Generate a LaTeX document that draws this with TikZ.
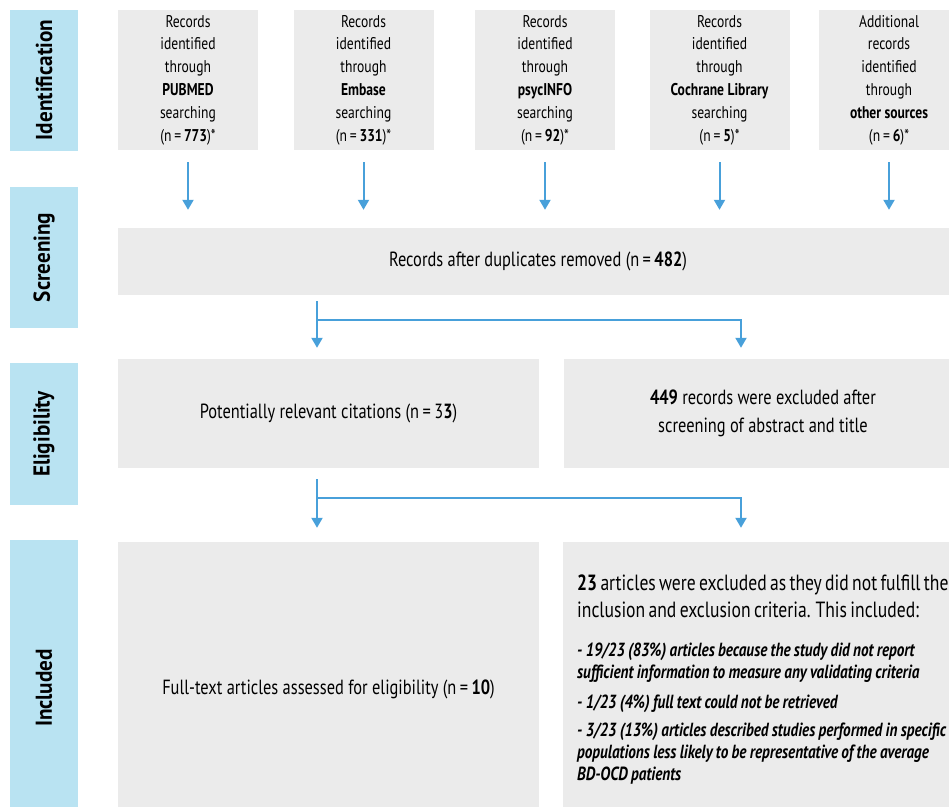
\documentclass[tikz,border=0pt]{standalone}
\usepackage{fontspec}
\setmainfont{PT Sans}[FakeStretch=0.8]
\newfontfamily\stagefont{PT Sans}[FakeStretch=0.92]
\usetikzlibrary{arrows.meta}

\definecolor{stageblue}{RGB}{185,227,242}
\definecolor{boxgray}{RGB}{235,235,235}
\definecolor{flowblue}{RGB}{72,160,218}

\tikzset{
  stage/.style={fill=stageblue, rotate=90, inner sep=0pt, minimum height=68pt,
    font=\stagefont\bfseries\fontsize{23}{26}\selectfont},
  srcbox/.style={fill=boxgray, inner sep=0pt, minimum width=140pt, minimum height=140pt,
    align=center, font=\fontsize{17}{22.8}\selectfont},
  grayarea/.style={fill=boxgray, inner sep=0pt, align=center,
    font=\fontsize{20.5}{28}\selectfont},
  flow/.style={draw=flowblue, line width=2pt, -{Triangle[width=11pt,length=10pt]}}
}

\begin{document}
\begin{tikzpicture}[x=1pt, y=-1pt]

\useasboundingbox (0,0) rectangle (949,806);
\clip (0,0) rectangle (949,806);

% stages down the left side
\node[stage, minimum width=141pt] (identlbl) at (44,80) {Identification};
\node[stage, minimum width=141pt] (screenlbl) at (44,257.5) {Screening};
\node[stage, minimum width=142pt] (eliglbl) at (44,434) {Eligibility};
\node[stage, minimum width=296pt] (incllbl) at (44,688) {Included};

% sources
\node[srcbox] (pubmed) at (188,80) {Records\\identified\\through\\\textbf{PUBMED}\\searching\\(n\,=\,\textbf{773})*};
\node[srcbox] (embase) at (363.5,80) {Records\\identified\\through\\\textbf{Embase}\\searching\\(n\,=\,\textbf{331})*};
\node[srcbox] (psyc) at (545,80) {Records\\identified\\through\\\textbf{psycINFO}\\searching\\(n\,=\,\textbf{92})*};
\node[srcbox] (cochrane) at (719.5,80) {Records\\identified\\through\\\textbf{Cochrane Library}\\searching\\(n\,=\,\textbf{5})*};
\node[srcbox] (other) at (889,80) {Additional\\records\\identified\\through\\\textbf{other sources}\\(n\,=\,\textbf{6})*};

\node[grayarea, minimum width=840pt, minimum height=67pt] (dupl) at (538,261.5)
  {Records after duplicates removed (n\,=\,\textbf{482})};

\node[grayarea, minimum width=421pt, minimum height=109pt] (relevant) at (328.5,413.5)
  {Potentially relevant citations (n\,=\,3\textbf{3})};
\node[grayarea, minimum width=398pt, minimum height=109pt] (excl1) at (763,413.5)
  {\textbf{449} records were excluded after\\screening of abstract and title};

\node[grayarea, minimum width=421pt, minimum height=294pt] (fulltext) at (328.5,689)
  {Full-text articles assessed for eligibility (n\,=\,\textbf{10})};
\node[grayarea, minimum width=399pt, minimum height=294pt] (excl2) at (762.5,689) {};
\node[anchor=north west, text width=450pt, inner sep=0pt] (excl2txt) at (577,575) {%
  \raggedright\fontsize{22}{27}\selectfont
  \textbf{23} articles were excluded as they did not fulfill the\newline
  inclusion and exclusion criteria. This included:\par
  \vspace{17pt}
  \fontsize{19}{22}\selectfont\bfseries\itshape
  - 19/23 (83\%) articles because the study did not report\newline
  sufficient information to measure any validating criteria\par
  \vspace{8pt}
  - 1/23 (4\%) full text could not be retrieved\par
  \vspace{6pt}
  - 3/23 (13\%) articles described studies performed in specific\newline
  populations less likely to be representative of the average\newline
  BD-OCD patients\par};

% arrows
\foreach \src in {pubmed,embase,psyc,cochrane,other}
  \draw[flow, shorten <=12pt, shorten >=18pt] (\src.south) -- (\src.south |- dupl.north);

\coordinate (fork1) at (317,320);
\coordinate (drop1) at (741,320);
\draw[flow, shorten <=6pt, shorten >=11pt] (dupl.south -| fork1) -- (relevant.north -| fork1);
\draw[flow, shorten >=11pt] (fork1) -- (drop1) -- (drop1 |- excl1.north);

\coordinate (fork2) at (317,498);
\coordinate (drop2) at (741,498);
\draw[flow, shorten <=11pt, shorten >=14pt] (relevant.south -| fork2) -- (fulltext.north -| fork2);
\draw[flow, shorten >=14pt] (fork2) -- (drop2) -- (drop2 |- excl2.north);

\end{tikzpicture}
\end{document}
